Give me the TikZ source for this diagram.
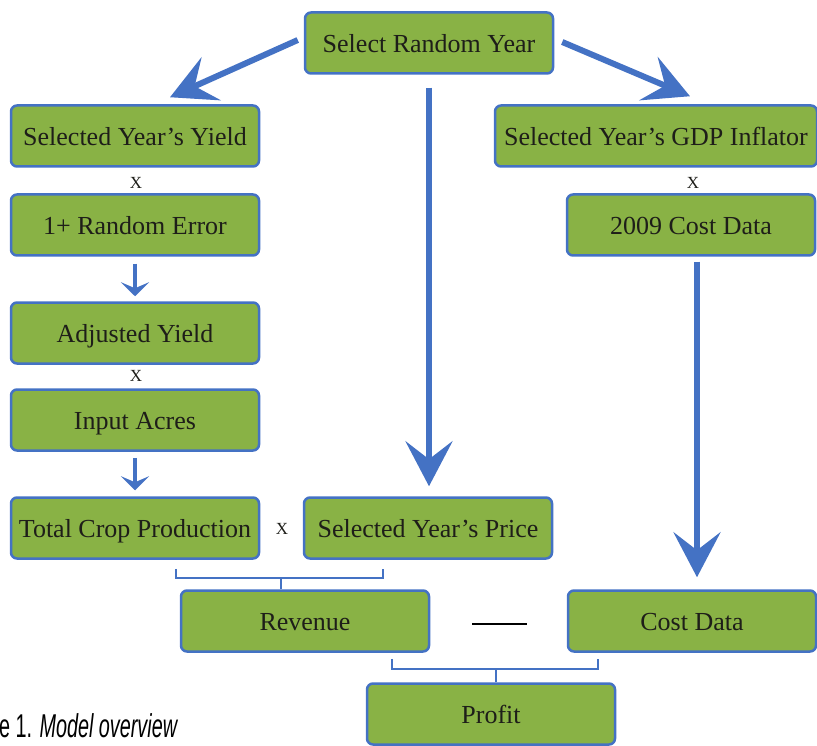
\documentclass[tikz,border=0pt]{standalone}
\usepackage{graphicx}
\usepackage{fontspec}
\setmainfont{Liberation Serif}
\newfontfamily\capfont{Liberation Sans}
\usetikzlibrary{arrows.meta}

\definecolor{boxgreen}{RGB}{137,178,69}
\definecolor{boxblue}{RGB}{68,114,196}
\definecolor{boxtext}{RGB}{30,30,25}

\begin{document}
\begin{tikzpicture}[x=1pt,y=-1pt,
  box/.style={draw=boxblue,fill=boxgreen,line width=2.5pt,rounded corners=6pt,
    minimum width=248pt,minimum height=61pt,inner sep=0pt,text=boxtext,
    text height=19pt,text depth=0pt,font=\fontsize{26}{30}\selectfont},
  bigarrow/.style={boxblue,line width=6pt,-{Stealth[length=45pt,width=47pt,inset=18pt]}},
  smallarrow/.style={boxblue,line width=3.5pt,-{Stealth[length=14pt,width=28pt,inset=6pt]}},
  bracket/.style={boxblue,line width=2pt},
  times/.style={font=\fontsize{17}{20}\selectfont,text=boxtext}]

  % Fixed page size, same as the reference
  \useasboundingbox (0,0) rectangle (817,746);

  % Top node
  \node[box] (srand) at (429,43) {Select Random Year};

  % Left column: yield side
  \node[box] (yield) at (135,136) {Selected Year's Yield};
  \node[times] (x1) at (136,183) {X};
  \node[box] (err) at (135,225) {1+ Random Error};
  \node[box] (adj) at (135,333) {Adjusted Yield};
  \node[times] (x3) at (136,376) {X};
  \node[box] (acres) at (135,420) {Input Acres};
  \node[box] (total) at (135,528) {Total Crop Production};
  \node[times] (x4) at (282,529) {X};
  \node[box] (price) at (428,528) {Selected Year's Price};

  % Right column: cost side
  \node[box,minimum width=322pt] (gdp) at (656,136) {Selected Year's GDP Inflator};
  \node[times] (x2) at (693,183) {X};
  \node[box] (cost09) at (691,225) {2009 Cost Data};
  \node[box] (cost) at (692,621) {Cost Data};

  % Bottom rows
  \node[box] (rev) at (305,621) {Revenue};
  \node[box] (profit) at (491,714) {Profit};

  % Caption, cut off at the left edge
  \node[anchor=west,inner sep=0pt] (cap) at (-1,726)
        {\scalebox{0.6}[1]{\capfont\fontsize{33}{36}\selectfont e 1. \textit{Model overview}}};

  % Big arrows out of the selected year
  \draw[bigarrow] ([xshift=-6pt,yshift=3pt]srand.west)
        -- ([xshift=35pt,yshift=7pt]yield.north);
  \draw[bigarrow] ([xshift=8pt,yshift=1pt]srand.east)
        -- ([xshift=34pt,yshift=8pt]gdp.north);
  \draw[bigarrow] ([yshift=-13pt]srand.south)
        -- ([xshift=1pt,yshift=10pt]price.north);
  \draw[bigarrow] ([xshift=6pt,yshift=-5pt]cost09.south)
        -- ([xshift=5pt,yshift=12pt]cost.north);

  % Small arrows in the yield column
  \draw[smallarrow] ([yshift=-7pt]err.south) -- ([yshift=5pt]adj.north);
  \draw[smallarrow] ([yshift=-6pt]acres.south) -- ([yshift=6pt]total.north);

  % Brackets joining two boxes into one
  \draw[bracket] ([xshift=41pt,yshift=-9pt]total.south) -- ++(0,9)
        -| ([xshift=-45pt,yshift=-9pt]price.south);
  \draw[bracket] ([xshift=-24pt]rev.north) -- ++(0,-12);
  \draw[bracket] ([xshift=87pt,yshift=-6pt]rev.south) -- ++(0,10)
        -| ([xshift=-94pt,yshift=-6pt]cost.south);
  \draw[bracket] ([xshift=5pt]profit.north) -- ++(0,-14);

  % Minus sign between revenue and cost
  \draw[line width=2.6pt] ([xshift=42pt,yshift=-3pt]rev.east)
        -- ([xshift=-40pt,yshift=-3pt]cost.west);

\end{tikzpicture}
\end{document}
